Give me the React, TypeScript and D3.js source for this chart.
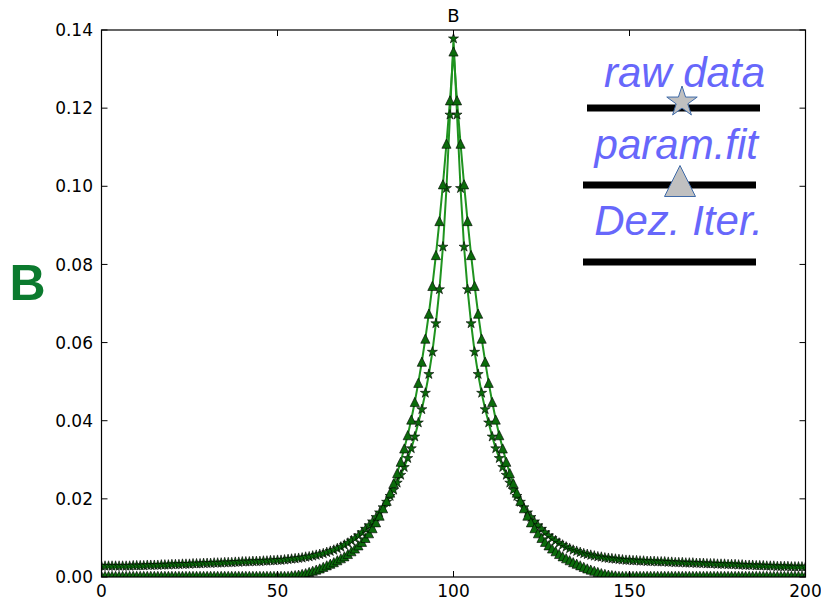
import React from 'react';
import * as d3 from 'd3';

const xTicks = [0, 50, 100, 150, 200];
const yTicks = [0, 0.02, 0.04, 0.06, 0.08, 0.1, 0.12, 0.14];
const titleText = 'B';
const yLabelText = 'B';
const legendLabels = ['raw data', 'param.fit', 'Dez. Iter.'];

// x = 0 .. 200 (201 samples)
const rawData = [
  0.0028, 0.0028, 0.0028, 0.0028, 0.0028, 0.0028, 0.0028, 0.0028, 0.0028, 0.0029,
  0.0029, 0.0029, 0.0029, 0.0030, 0.0030, 0.0030, 0.0030, 0.0031, 0.0031, 0.0031,
  0.0032, 0.0032, 0.0032, 0.0033, 0.0033, 0.0033, 0.0034, 0.0034, 0.0034, 0.0035,
  0.0035, 0.0035, 0.0036, 0.0036, 0.0036, 0.0037, 0.0037, 0.0037, 0.0038, 0.0038,
  0.0039, 0.0039, 0.0039, 0.0040, 0.0040, 0.0040, 0.0041, 0.0041, 0.0042, 0.0042,
  0.0043, 0.0043, 0.0044, 0.0045, 0.0046, 0.0047, 0.0048, 0.0049, 0.0051, 0.0052,
  0.0054, 0.0056, 0.0058, 0.0060, 0.0063, 0.0066, 0.0069, 0.0073, 0.0077, 0.0082,
  0.0087, 0.0093, 0.0099, 0.0106, 0.0114, 0.0123, 0.0132, 0.0142, 0.0153, 0.0165,
  0.0178, 0.0192, 0.0207, 0.0223, 0.0241, 0.0261, 0.0281, 0.0304, 0.0329, 0.0359,
  0.0395, 0.0429, 0.0471, 0.0519, 0.0576, 0.0649, 0.0736, 0.0845, 0.0995, 0.1183,
  0.1378,
  0.1183, 0.0995, 0.0845, 0.0736, 0.0649, 0.0576, 0.0519, 0.0471, 0.0429, 0.0395,
  0.0359, 0.0329, 0.0304, 0.0281, 0.0261, 0.0241, 0.0223, 0.0207, 0.0192, 0.0178,
  0.0165, 0.0153, 0.0142, 0.0132, 0.0123, 0.0114, 0.0106, 0.0099, 0.0093, 0.0087,
  0.0082, 0.0077, 0.0073, 0.0069, 0.0066, 0.0063, 0.0060, 0.0058, 0.0056, 0.0054,
  0.0052, 0.0051, 0.0049, 0.0048, 0.0047, 0.0046, 0.0045, 0.0044, 0.0043, 0.0043,
  0.0042, 0.0042, 0.0041, 0.0041, 0.0040, 0.0040, 0.0040, 0.0039, 0.0039, 0.0039,
  0.0038, 0.0038, 0.0037, 0.0037, 0.0037, 0.0036, 0.0036, 0.0036, 0.0035, 0.0035,
  0.0035, 0.0034, 0.0034, 0.0034, 0.0033, 0.0033, 0.0033, 0.0032, 0.0032, 0.0032,
  0.0031, 0.0031, 0.0030, 0.0030, 0.0030, 0.0029, 0.0029, 0.0029, 0.0028, 0.0028,
  0.0028, 0.0027, 0.0027, 0.0027, 0.0027, 0.0026, 0.0026, 0.0026, 0.0026, 0.0026,
];

const paramFit = [
  0.0003, 0.0003, 0.0003, 0.0003, 0.0003, 0.0003, 0.0003, 0.0003, 0.0003, 0.0003,
  0.0003, 0.0003, 0.0003, 0.0003, 0.0003, 0.0003, 0.0003, 0.0003, 0.0003, 0.0003,
  0.0003, 0.0003, 0.0003, 0.0003, 0.0003, 0.0003, 0.0003, 0.0003, 0.0003, 0.0003,
  0.0003, 0.0003, 0.0003, 0.0003, 0.0003, 0.0003, 0.0003, 0.0003, 0.0003, 0.0003,
  0.0003, 0.0003, 0.0003, 0.0003, 0.0003, 0.0003, 0.0003, 0.0003, 0.0003, 0.0003,
  0.0003, 0.0003, 0.0003, 0.0003, 0.0004, 0.0005, 0.0006, 0.0008, 0.0010, 0.0013,
  0.0016, 0.0019, 0.0022, 0.0026, 0.0030, 0.0034, 0.0038, 0.0043, 0.0048, 0.0053,
  0.0059, 0.0066, 0.0073, 0.0081, 0.0090, 0.0100, 0.0112, 0.0125, 0.0140, 0.0157,
  0.0176, 0.0195, 0.0216, 0.0240, 0.0266, 0.0295, 0.0329, 0.0363, 0.0403, 0.0448,
  0.0497, 0.0551, 0.0610, 0.0674, 0.0745, 0.0824, 0.0911, 0.1005, 0.1109, 0.1220,
  0.1345,
  0.1220, 0.1109, 0.1005, 0.0911, 0.0824, 0.0745, 0.0674, 0.0610, 0.0551, 0.0497,
  0.0448, 0.0403, 0.0363, 0.0329, 0.0295, 0.0266, 0.0240, 0.0216, 0.0195, 0.0176,
  0.0157, 0.0140, 0.0125, 0.0112, 0.0100, 0.0090, 0.0081, 0.0073, 0.0066, 0.0059,
  0.0053, 0.0048, 0.0043, 0.0038, 0.0034, 0.0030, 0.0026, 0.0022, 0.0019, 0.0016,
  0.0013, 0.0010, 0.0008, 0.0006, 0.0005, 0.0004, 0.0003, 0.0003, 0.0003, 0.0003,
  0.0003, 0.0003, 0.0003, 0.0003, 0.0003, 0.0003, 0.0003, 0.0003, 0.0003, 0.0003,
  0.0003, 0.0003, 0.0003, 0.0003, 0.0003, 0.0003, 0.0003, 0.0003, 0.0003, 0.0003,
  0.0003, 0.0003, 0.0003, 0.0003, 0.0003, 0.0003, 0.0003, 0.0003, 0.0003, 0.0003,
  0.0003, 0.0003, 0.0003, 0.0003, 0.0003, 0.0003, 0.0003, 0.0003, 0.0003, 0.0003,
  0.0003, 0.0003, 0.0003, 0.0003, 0.0003, 0.0003, 0.0003, 0.0003, 0.0003, 0.0003,
];

const xValues = d3.range(rawData.length);

function starPath(r: number) {
  const pts: string[] = [];
  const ri = r * 0.382;
  for (let k = 0; k < 10; k++) {
    const rad = k % 2 === 0 ? r : ri;
    const a = -Math.PI / 2 + (k * Math.PI) / 5;
    pts.push(`${(rad * Math.cos(a)).toFixed(2)},${(rad * Math.sin(a)).toFixed(2)}`);
  }
  return 'M' + pts.join('L') + 'Z';
}

function triPath(h: number) {
  return `M0,${-h}L${-h},${h}L${h},${h}Z`;
}

export default function App() {
  const W = 821;
  const H = 602;
  const left = 101.5;
  const right = 805.5;
  const top = 30;
  const bottom = 577;
  const x = d3.scaleLinear().domain([0, 200]).range([left, right]);
  const y = d3.scaleLinear().domain([0, 0.14]).range([bottom, top]);
  const line = d3
    .line<number>()
    .x((_, i) => x(xValues[i]))
    .y((d) => y(d));

  const lineColor = '#1f931f';
  const markerFill = '#0b6b0b';
  const tickFont = 'DejaVu Sans, sans-serif';
  const tickSize = 17;
  const tickLen = 6;

  const star = starPath(5.3);
  const tri = triPath(4.6);

  const legendTextColor = '#6767fb';
  const legendLines = [
    { y: 108, x1: 587, x2: 760 },
    { y: 185, x1: 583, x2: 756 },
    { y: 262, x1: 583, x2: 756 },
  ];
  const legendTexts = [
    { x: 765, y: 87 },
    { x: 758, y: 159 },
    { x: 763, y: 235 },
  ];

  return (
    <svg
      width={W}
      height={H}
      style={{ position: 'absolute', left: 0, top: 0, background: '#fff' }}
    >
      <defs>
        <clipPath id="plotClip">
          <rect x={left} y={top} width={right - left} height={bottom - top} />
        </clipPath>
      </defs>
      <rect x={0} y={0} width={W} height={H} fill="#fff" />

      <g clipPath="url(#plotClip)">
        <path d={line(rawData) || ''} fill="none" stroke={lineColor} strokeWidth={2} />
        <path d={line(paramFit) || ''} fill="none" stroke={lineColor} strokeWidth={2} />
        {rawData.map((v, i) => (
          <path
            key={'s' + i}
            d={star}
            transform={`translate(${x(xValues[i])},${y(v)})`}
            fill={markerFill}
            stroke="#000"
            strokeWidth={0.6}
          />
        ))}
        {paramFit.map((v, i) => (
          <path
            key={'t' + i}
            d={tri}
            transform={`translate(${x(xValues[i])},${y(v)})`}
            fill={markerFill}
            stroke="#000"
            strokeWidth={0.6}
          />
        ))}
      </g>

      {/* axes frame */}
      <rect
        x={left}
        y={top}
        width={right - left}
        height={bottom - top}
        fill="none"
        stroke="#000"
        strokeWidth={1.2}
      />

      {/* x ticks */}
      {xTicks.map((t) => (
        <g key={'xt' + t}>
          <line x1={x(t)} x2={x(t)} y1={bottom} y2={bottom - tickLen} stroke="#000" />
          <line x1={x(t)} x2={x(t)} y1={top} y2={top + tickLen} stroke="#000" />
          <text
            x={x(t)}
            y={597}
            textAnchor="middle"
            fontFamily={tickFont}
            fontSize={tickSize}
            fill="#000"
          >
            {t}
          </text>
        </g>
      ))}

      {/* y ticks */}
      {yTicks.map((t) => (
        <g key={'yt' + t}>
          <line x1={left} x2={left + tickLen} y1={y(t)} y2={y(t)} stroke="#000" />
          <line x1={right} x2={right - tickLen} y1={y(t)} y2={y(t)} stroke="#000" />
          <text
            x={93}
            y={y(t)}
            dy="0.36em"
            textAnchor="end"
            fontFamily={tickFont}
            fontSize={tickSize}
            fill="#000"
          >
            {t.toFixed(2)}
          </text>
        </g>
      ))}

      {/* title */}
      <text
        x={(left + right) / 2}
        y={22}
        textAnchor="middle"
        fontFamily={tickFont}
        fontSize={18}
        fill="#000"
      >
        {titleText}
      </text>

      {/* y label */}
      <text
        x={27.5}
        y={300}
        textAnchor="middle"
        fontFamily="Liberation Sans, Arial, sans-serif"
        fontWeight="bold"
        fontSize={50}
        fill="#0b7a2e"
      >
        {yLabelText}
      </text>

      {/* legend */}
      {legendLines.map((l, i) => (
        <line key={'ll' + i} x1={l.x1} x2={l.x2} y1={l.y} y2={l.y} stroke="#000" strokeWidth={7} />
      ))}
      {legendLabels.map((lab, i) => (
        <text
          key={'lt' + i}
          x={legendTexts[i].x}
          y={legendTexts[i].y}
          textAnchor="end"
          fontFamily="Liberation Sans, Arial, sans-serif"
          fontStyle="italic"
          fontSize={42}
          fill={legendTextColor}
        >
          {lab}
        </text>
      ))}
      <path
        d={starPath(16)}
        transform="translate(682,102)"
        fill="#c0c0c0"
        stroke="#3f6aa8"
        strokeWidth={1}
      />
      <path
        d="M0,-15.5L-15.5,15.5L15.5,15.5Z"
        transform="translate(680,181)"
        fill="#c0c0c0"
        stroke="#3f6aa8"
        strokeWidth={1}
      />
    </svg>
  );
}
